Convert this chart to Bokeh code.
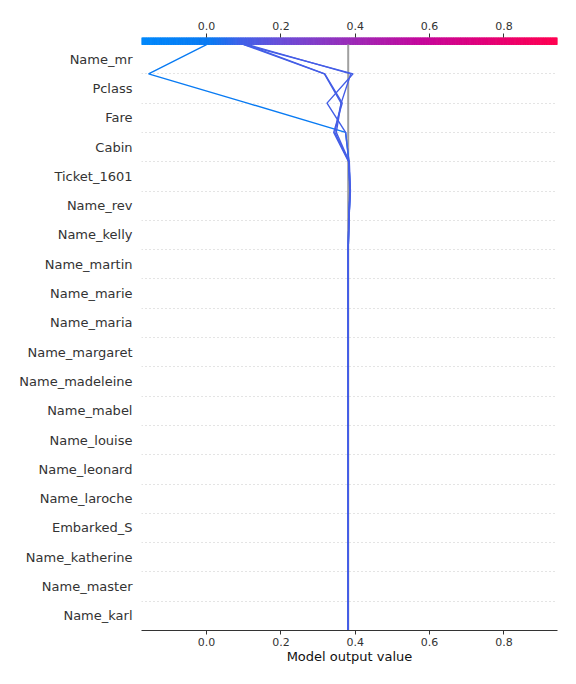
import numpy as np
from bokeh.plotting import figure
from bokeh.models import Range1d, FixedTicker, LinearAxis, PrintfTickFormatter
from bokeh.embed import file_html
from bokeh.resources import INLINE

# Features, top to bottom
features = ["Name_mr", "Pclass", "Fare", "Cabin", "Ticket_1601", "Name_rev",
            "Name_kelly", "Name_martin", "Name_marie", "Name_maria", "Name_margaret",
            "Name_madeleine", "Name_mabel", "Name_louise", "Name_leonard",
            "Name_laroche", "Embarked_S", "Name_katherine", "Name_master", "Name_karl"]

base_value = 0.381

# cumulative model output at the upper boundary of each feature row (top to bottom),
# for the first rows; rows further down stay at the base value
obs_blue = [0.000, -0.156, 0.110, 0.374, 0.383, 0.386, 0.383]
obs_p1 = [0.100, 0.317, 0.362, 0.345, 0.383, 0.386, 0.383]
obs_p2 = [0.105, 0.318, 0.365, 0.342, 0.382, 0.385, 0.382]
obs_p3 = [0.100, 0.394, 0.324, 0.374, 0.383, 0.386, 0.383]
obs_p4 = [0.110, 0.388, 0.362, 0.349, 0.384, 0.387, 0.383]
observations = [obs_blue, obs_p1, obs_p2, obs_p3, obs_p4]

x_ticks = [0.0, 0.2, 0.4, 0.6, 0.8]
xmin, xmax = -0.175, 0.944

# colormap stops (fraction, rgb)
stops = [(0.0, (0, 136, 251)), (0.166, (10, 122, 242)), (0.24, (64, 96, 232)),
         (0.335, (106, 78, 216)), (0.50, (154, 44, 184)), (0.67, (196, 8, 156)),
         (0.84, (228, 0, 117)), (1.0, (255, 0, 81))]


def cmap(f):
    f = min(max(f, 0.0), 1.0)
    for (f0, c0), (f1, c1) in zip(stops[:-1], stops[1:]):
        if f <= f1:
            t = (f - f0) / (f1 - f0) if f1 > f0 else 0
            c = [int(round(a + (b - a) * t)) for a, b in zip(c0, c1)]
            return "#%02x%02x%02x" % tuple(c)
    return "#%02x%02x%02x" % stops[-1][1]


n = len(features)
ytop = n + 0.239

p = figure(width=576, height=684, output_backend="svg", toolbar_location=None,
           x_range=Range1d(xmin, xmax), y_range=Range1d(0, ytop),
           min_border_left=141, min_border_right=19, min_border_top=37,
           min_border_bottom=54, x_axis_location="below")
p.outline_line_color = None
p.background_fill_color = "white"
p.border_fill_color = "white"

# grid
p.xgrid.visible = False
p.ygrid.ticker = FixedTicker(ticks=list(range(1, n)))
p.ygrid.grid_line_color = "#c8c8c8"
p.ygrid.grid_line_dash = "1 3"
p.ygrid.grid_line_width = 1

# y axis with feature names
yaxis = p.yaxis[0]
ypos = [n - i - 0.5 for i in range(n)]
yaxis.ticker = FixedTicker(ticks=ypos)
yaxis.major_label_overrides = {y: f for y, f in zip(ypos, features)}
yaxis.axis_line_color = None
yaxis.major_tick_line_color = None
yaxis.minor_tick_line_color = None
yaxis.major_label_standoff = 3
yaxis.major_label_text_font = "DejaVu Sans"
yaxis.major_label_text_font_size = "13px"
yaxis.major_label_text_color = "#333333"

# bottom x axis
xaxis = p.xaxis[0]
xaxis.ticker = FixedTicker(ticks=x_ticks)
xaxis.formatter = PrintfTickFormatter(format="%.1f")
xaxis.axis_label = "Model output value"
xaxis.axis_label_text_font = "DejaVu Sans"
xaxis.axis_label_text_font_size = "13px"
xaxis.axis_label_text_font_style = "normal"
xaxis.axis_label_text_color = "#111111"
xaxis.axis_label_standoff = 0
xaxis.major_label_text_font = "DejaVu Sans"
xaxis.major_label_text_font_size = "11px"
xaxis.major_label_text_color = "#333333"
xaxis.axis_line_color = "#333333"
xaxis.major_tick_line_color = "#333333"
xaxis.major_tick_out = 4
xaxis.major_tick_in = 0
xaxis.minor_tick_line_color = None
xaxis.major_label_standoff = 3

# top axis (colorbar ticks)
top = LinearAxis(ticker=FixedTicker(ticks=x_ticks),
                 formatter=PrintfTickFormatter(format="%.1f"))
top.axis_line_color = None
top.major_tick_line_color = "#333333"
top.major_tick_out = 4
top.major_tick_in = 0
top.minor_tick_line_color = None
top.major_label_text_font = "DejaVu Sans"
top.major_label_text_font_size = "11px"
top.major_label_text_color = "#333333"
top.major_label_standoff = 4
p.add_layout(top, "above")

# colorbar
nseg = 240
edges = np.linspace(xmin, xmax, nseg + 1)
cols = [cmap((i + 0.5) / nseg) for i in range(nseg)]
p.quad(left=edges[:-1], right=edges[1:], bottom=n, top=ytop,
       fill_color=cols, line_color=cols, line_width=1)

# base value line
p.segment(x0=[base_value], y0=[0], x1=[base_value], y1=[n],
          line_color="#a0a0a0", line_width=2)

# decision lines
for obs in observations:
    vals = list(obs) + [base_value] * (n + 1 - len(obs))
    ys = [n - i for i in range(n + 1)]
    col = cmap((obs[0] - xmin) / (xmax - xmin))
    p.line(vals, ys, line_color=col, line_width=1.4)

open("out.html", "w").write(file_html(p, INLINE))
